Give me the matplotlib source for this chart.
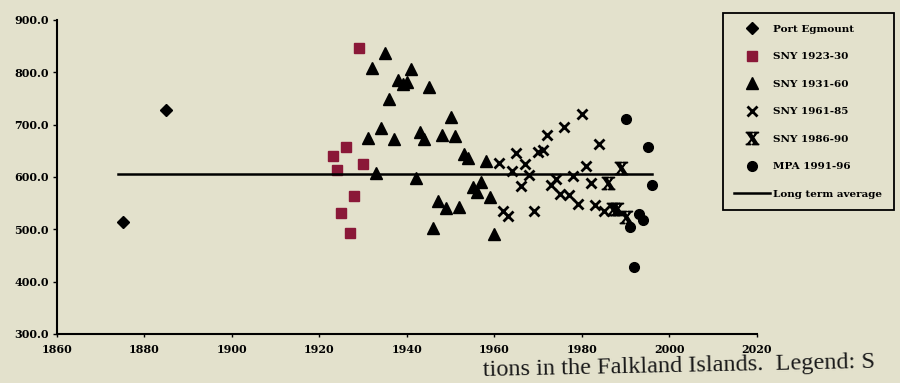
import matplotlib.pyplot as plt
from matplotlib.ticker import FormatStrFormatter

# Annual rainfall (mm) by record source
port_years = [1875, 1885]
port_vals = [514, 727]

sny_23_years = [1923, 1924, 1925, 1926, 1927, 1928, 1929, 1930]
sny_23_vals = [640, 613, 531, 657, 492, 564, 846, 624]

sny_31_years = [1931, 1932, 1933, 1934, 1935, 1936, 1937, 1938, 1939, 1940,
                1941, 1942, 1943, 1944, 1945, 1946, 1947, 1948, 1949, 1950,
                1951, 1952, 1953, 1954, 1955, 1956, 1957, 1958, 1959, 1960]
sny_31_vals = [674, 809, 608, 694, 836, 749, 673, 786, 777, 782,
               806, 598, 685, 672, 772, 503, 555, 681, 541, 714,
               679, 542, 644, 636, 580, 572, 591, 631, 562, 491]

sny_61_years = [1961, 1962, 1963, 1964, 1965, 1966, 1967, 1968, 1969, 1970,
                1971, 1972, 1973, 1974, 1975, 1976, 1977, 1978, 1979, 1980,
                1981, 1982, 1983, 1984, 1985]
sny_61_vals = [627, 535, 526, 612, 645, 582, 625, 603, 535, 648,
               652, 680, 584, 596, 567, 696, 566, 601, 549, 721,
               620, 589, 547, 662, 535]

sny_86_years = [1986, 1987, 1988, 1989, 1990]
sny_86_vals = [589, 538, 539, 618, 524]

mpa_years = [1990, 1991, 1992, 1993, 1994, 1995, 1996]
mpa_vals = [711, 505, 427, 530, 517, 658, 584]

avg_years = [1874, 1996]
avg_vals = [605, 605]

PAPER = "#e3e1cc"
MAROON = "#8a1838"


def main():
    plt.rcParams["mathtext.fontset"] = "stix"
    tick_font = {"family": "DejaVu Serif", "weight": "bold", "size": 8}

    fig = plt.figure(figsize=(9, 3.83), dpi=100, facecolor=PAPER)
    ax = fig.add_axes([0.0633, 0.128, 0.7778, 0.82])
    ax.set_facecolor(PAPER)

    ax.plot(port_years, port_vals, "D", color="black", ms=6.6, label="Port Egmount")
    ax.plot(sny_23_years, sny_23_vals, "s", color=MAROON, ms=7, label="SNY 1923-30")
    ax.plot(sny_31_years, sny_31_vals, "^", color="black", ms=8, label="SNY 1931-60")
    ax.plot(sny_61_years, sny_61_vals, "x", color="black", ms=7.5, mew=2,
            label="SNY 1961-85")
    ax.plot(sny_86_years, sny_86_vals, marker=r"$\mathbf{X}$", ls="none",
            color="black", ms=9, label="SNY 1986-90")
    ax.plot(mpa_years, mpa_vals, "o", color="black", ms=7, label="MPA 1991-96")
    ax.plot(avg_years, avg_vals, "-", color="black", lw=1.8, label="Long term average")

    ax.set_xlim(1860, 2020)
    ax.set_ylim(300, 900)
    ax.set_xticks(range(1860, 2021, 20))
    ax.set_yticks(range(300, 901, 100))
    ax.yaxis.set_major_formatter(FormatStrFormatter("%.1f"))
    ax.tick_params(axis="y", length=3, width=1, pad=3)
    ax.tick_params(axis="x", length=2, width=1, pad=5)
    for label in ax.get_xticklabels() + ax.get_yticklabels():
        label.set_fontfamily(tick_font["family"])
        label.set_fontweight(tick_font["weight"])
        label.set_fontsize(tick_font["size"])

    for side in ("top", "right"):
        ax.spines[side].set_visible(False)
    for side in ("left", "bottom"):
        ax.spines[side].set_linewidth(1.5)

    leg = fig.legend(
        loc="upper left",
        bbox_to_anchor=(0.803, 0.966),
        bbox_transform=fig.transFigure,
        numpoints=1,
        handlelength=3.4,
        handletextpad=0.35,
        labelspacing=1.75,
        borderpad=1.1,
        borderaxespad=0,
        fancybox=False,
        facecolor=PAPER,
        framealpha=1,
        edgecolor="black",
        prop={"family": "DejaVu Serif", "weight": "bold", "size": 7.5},
    )
    leg.get_frame().set_linewidth(1.3)

    fig.text(0.537, 0.018, "tions in the Falkland Islands.  Legend: S",
             family="Liberation Serif", fontsize=17.5, rotation=1.2,
             rotation_mode="anchor", ha="left", va="baseline", color="#1a1a1a")

    fig.savefig("out.png", dpi=100, facecolor=PAPER)


if __name__ == "__main__":
    main()
